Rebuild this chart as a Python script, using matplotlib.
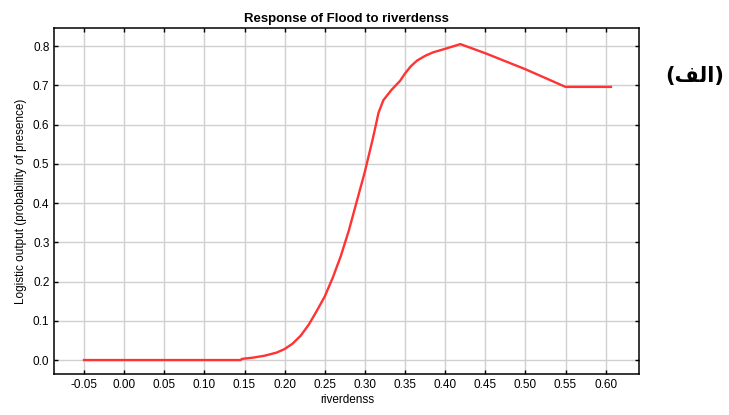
import numpy as np
import matplotlib.pyplot as plt
from matplotlib.ticker import FormatStrFormatter

# Response curve
riverdenss = [-0.05, 0.145, 0.147, 0.160, 0.175, 0.190, 0.200, 0.210, 0.220,
              0.230, 0.240, 0.250, 0.260, 0.270, 0.280, 0.290, 0.300, 0.310,
              0.317, 0.323, 0.333, 0.3437, 0.350, 0.357, 0.365, 0.375, 0.385,
              0.400, 0.419, 0.451, 0.500, 0.550, 0.6066]
logistic = [0.0, 0.0, 0.003, 0.006, 0.011, 0.019, 0.028, 0.042, 0.062,
            0.090, 0.125, 0.162, 0.210, 0.265, 0.330, 0.405, 0.480, 0.565,
            0.630, 0.662, 0.688, 0.711, 0.730, 0.748, 0.763, 0.775, 0.784,
            0.793, 0.805, 0.781, 0.741, 0.696, 0.696]

xticks = np.arange(-0.05, 0.601, 0.05)
yticks = np.arange(0.0, 0.81, 0.1)

plt.rcParams['font.family'] = ['Liberation Sans', 'DejaVu Sans']

fig = plt.figure(figsize=(7.29, 4.15), dpi=100)
ax = fig.add_axes([0.0745, 0.098, 0.8025, 0.8345])

ax.plot(riverdenss, logistic, color='#ff3333', lw=1.7)

ax.set_xlim(-0.087, 0.642)
ax.set_ylim(-0.0364, 0.846)
ax.set_xticks(xticks)
ax.set_yticks(yticks)
ax.xaxis.set_major_formatter(FormatStrFormatter('%.2f'))
ax.yaxis.set_major_formatter(FormatStrFormatter('%.1f'))
ax.tick_params(direction='in', length=3, width=1, top=True, right=True,
               labelsize=8.5, colors='black')
ax.grid(True, color='#d0d0d0', lw=1)
ax.set_axisbelow(True)
for s in ax.spines.values():
    s.set_linewidth(1.1)

ax.set_title('Response of Flood to riverdenss', fontsize=9.5, fontweight='bold', pad=4)
ax.set_xlabel('riverdenss', fontsize=8.5, labelpad=2)
ax.set_ylabel('Logistic output (probability of presence)', fontsize=8.5, labelpad=4)

# Arabic label "(الف)" written in shaped presentation forms, visual order
fig.text(0.953, 0.818, '(\ufed2\ufedf\ufe8d)', fontsize=15, fontweight='bold',
         family=['DejaVu Sans'], ha='center', va='center')

fig.savefig('out.png', dpi=100)
